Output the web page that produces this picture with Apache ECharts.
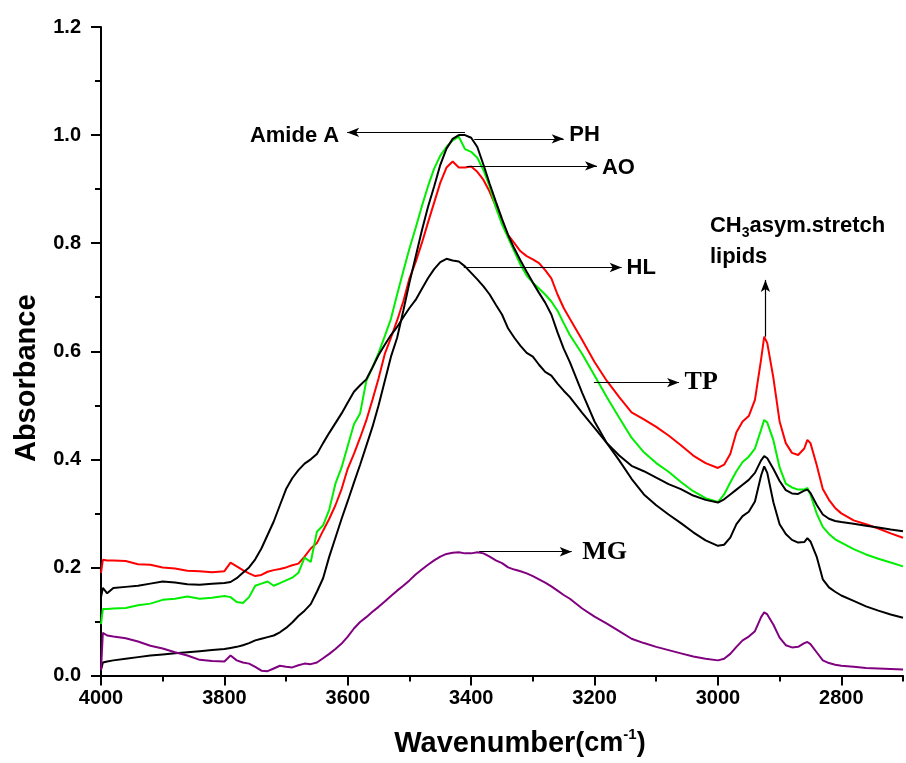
<!DOCTYPE html>
<html>
<head>
<meta charset="utf-8">
<script src="https://cdn.jsdelivr.net/npm/echarts@6/dist/echarts.min.js"></script>
<style>
html,body{margin:0;padding:0;background:#fff;}
#chart{width:906px;height:763px;}
</style>
</head>
<body>
<div id="chart"></div>
<script>
// ---- data ----
const wavenumbers = [4000,3997,3990,3980,3960,3940,3920,3900,3880,3860,3840,3820,3800,
 3790,3780,3770,3760,3750,3740,3730,3720,3710,3700,3690,3680,3670,3660,3650,3640,3630,3620,3610,3600,
 3590,3580,3570,3560,3550,3540,3530,3520,3510,3500,3490,3480,3470,3460,3450,3440,3430,3420,3410,3400,
 3390,3380,3370,3360,3350,3340,3330,3320,3310,3300,3290,3280,3270,3260,3250,3240,
 3220,3200,3180,3160,3140,3120,3100,3080,3060,3040,3020,3000,
 2990,2980,2970,2960,2950,2940,2930,2925,2920,2910,2900,2890,2880,2870,2860,2855,2850,2840,2830,2820,2810,2800,
 2780,2760,2740,2720,2700];

const aoValues = [0.19,0.214,0.213,0.213,0.212,0.206,0.205,0.200,0.198,0.194,0.193,0.191,0.193,
 0.209,0.202,0.195,0.189,0.184,0.186,0.192,0.195,0.197,0.200,0.204,0.207,0.220,0.235,0.245,0.268,0.290,0.315,0.345,0.383,
 0.410,0.440,0.472,0.510,0.550,0.595,0.625,0.657,0.692,0.735,0.765,0.800,0.838,0.875,0.912,0.940,0.951,0.940,0.940,0.942,
 0.932,0.917,0.895,0.868,0.840,0.815,0.800,0.785,0.776,0.770,0.763,0.750,0.735,0.705,0.680,0.660,
 0.621,0.580,0.545,0.515,0.487,0.474,0.460,0.444,0.426,0.407,0.393,0.384,
 0.390,0.410,0.450,0.470,0.480,0.510,0.585,0.627,0.615,0.550,0.470,0.430,0.412,0.408,0.420,0.436,0.430,0.390,0.345,0.325,0.310,0.300,
 0.287,0.280,0.272,0.263,0.255];

const tpValues = [0.095,0.123,0.123,0.124,0.125,0.130,0.133,0.140,0.142,0.146,0.142,0.144,0.147,
 0.145,0.136,0.134,0.145,0.166,0.170,0.174,0.166,0.171,0.176,0.181,0.190,0.218,0.210,0.266,0.278,0.307,0.355,0.385,0.425,
 0.465,0.485,0.545,0.570,0.597,0.628,0.660,0.705,0.748,0.790,0.828,0.868,0.905,0.938,0.962,0.978,0.990,0.997,0.974,0.969,
 0.958,0.935,0.905,0.866,0.835,0.810,0.785,0.760,0.740,0.727,0.716,0.705,0.692,0.675,0.652,0.630,
 0.595,0.555,0.515,0.477,0.440,0.413,0.393,0.377,0.358,0.341,0.328,0.321,
 0.335,0.357,0.378,0.395,0.405,0.420,0.455,0.473,0.468,0.435,0.385,0.355,0.348,0.344,0.344,0.347,0.335,0.300,0.275,0.262,0.252,0.246,
 0.234,0.224,0.216,0.209,0.202];

const hlValues = [0.145,0.162,0.152,0.162,0.164,0.166,0.170,0.174,0.172,0.169,0.168,0.170,0.171,
 0.173,0.180,0.190,0.200,0.215,0.235,0.260,0.285,0.315,0.345,0.365,0.380,0.392,0.400,0.410,0.430,0.449,0.467,0.485,0.505,
 0.525,0.537,0.548,0.570,0.593,0.612,0.630,0.645,0.663,0.680,0.695,0.715,0.735,0.752,0.765,0.771,0.768,0.766,0.757,0.745,
 0.733,0.720,0.705,0.686,0.668,0.642,0.625,0.610,0.597,0.590,0.575,0.562,0.555,0.540,0.527,0.515,
 0.486,0.458,0.430,0.407,0.388,0.378,0.366,0.354,0.345,0.333,0.325,0.320,
 0.326,0.335,0.344,0.353,0.362,0.375,0.398,0.406,0.402,0.382,0.360,0.343,0.337,0.336,0.342,0.344,0.338,0.316,0.298,0.290,0.286,0.284,
 0.281,0.277,0.274,0.270,0.267];

const phValues = [0.010,0.024,0.026,0.028,0.031,0.034,0.037,0.039,0.041,0.043,0.045,0.047,0.049,
 0.051,0.053,0.056,0.060,0.065,0.068,0.071,0.074,0.080,0.088,0.098,0.110,0.120,0.132,0.155,0.180,0.220,0.255,0.290,0.323,
 0.357,0.390,0.425,0.460,0.500,0.545,0.590,0.625,0.675,0.727,0.775,0.823,0.867,0.905,0.945,0.975,0.993,1.000,1.000,0.995,
 0.978,0.945,0.910,0.877,0.845,0.815,0.790,0.768,0.747,0.727,0.708,0.690,0.668,0.635,0.605,0.580,
 0.523,0.470,0.430,0.398,0.364,0.335,0.315,0.298,0.282,0.265,0.250,0.240,
 0.242,0.255,0.280,0.295,0.303,0.322,0.370,0.387,0.375,0.320,0.280,0.262,0.251,0.246,0.247,0.254,0.248,0.220,0.178,0.163,0.155,0.148,
 0.138,0.128,0.120,0.113,0.107];

const mgValues = [0.010,0.079,0.074,0.072,0.069,0.063,0.055,0.050,0.043,0.037,0.029,0.027,0.026,
 0.037,0.028,0.024,0.022,0.016,0.009,0.008,0.013,0.018,0.016,0.015,0.019,0.022,0.021,0.024,0.032,0.040,0.049,0.059,0.072,
 0.087,0.099,0.108,0.118,0.127,0.137,0.147,0.157,0.166,0.176,0.187,0.196,0.205,0.213,0.220,0.225,0.227,0.228,0.226,0.226,
 0.228,0.226,0.220,0.213,0.208,0.200,0.196,0.193,0.189,0.184,0.178,0.172,0.165,0.157,0.149,0.142,
 0.124,0.109,0.096,0.082,0.068,0.060,0.053,0.047,0.041,0.035,0.031,0.028,
 0.031,0.040,0.053,0.065,0.072,0.082,0.108,0.117,0.113,0.094,0.070,0.056,0.052,0.053,0.060,0.062,0.058,0.043,0.028,0.023,0.020,0.018,
 0.016,0.014,0.013,0.012,0.011];

const xMajorTicks = [2800,3000,3200,3400,3600,3800,4000];

// annotations (data coordinates)
const arrows = [
  [[3410,1.005],[3601,1.005]],
  [[3395,0.993],[3250,0.993]],
  [[3407,0.943],[3196,0.943]],
  [[3412,0.755],[3156,0.755]],
  [[3201,0.542],[3063,0.542]],
  [[3387,0.229],[3237,0.229]],
  [[2923,0.627],[2923,0.732]]
];
const labels = [
  {text:'Amide A', at:[3614,0.9985], align:'right', serif:false},
  {text:'PH', at:[3241,1.001], align:'left', serif:false},
  {text:'AO', at:[3188,0.939], align:'left', serif:false},
  {text:'HL', at:[3148,0.754], align:'left', serif:false},
  {text:'TP', at:[3054,0.542], align:'left', serif:true},
  {text:'MG', at:[3220,0.2274], align:'left', serif:true},
  {text:'{a|CH}{s|3}{a|asym.stretch}', at:[3013,0.832], align:'left', serif:false},
  {text:'lipids', at:[3013,0.775], align:'left', serif:false}
];

const pair = vals => wavenumbers.map((w,i)=>[w, vals[i]]);
const sans = 'Liberation Sans, Arial, sans-serif';
const serif = 'Liberation Serif, Times New Roman, serif';

const chart = echarts.init(document.getElementById('chart'), null, {renderer:'canvas'});

function lineSeries(name, vals, color){
  return {name, type:'line', data:pair(vals), showSymbol:false, symbol:'none',
    lineStyle:{color, width:2}, itemStyle:{color}, animation:false, z:3};
}

const series = [
  lineSeries('AO', aoValues, '#ff0000'),
  lineSeries('TP', tpValues, '#00ee00'),
  lineSeries('HL', hlValues, '#000000'),
  lineSeries('PH', phValues, '#000000'),
  lineSeries('MG', mgValues, '#800080')
];
series.push({
  type:'line', data:[], silent:true, animation:false,
  markLine:{
    silent:true, animation:false, symbol:['none','arrow'], symbolSize:[7,12],
    lineStyle:{color:'#000', width:1.2, type:'solid'},
    label:{show:false},
    data: arrows.map(a=>[{coord:a[0]},{coord:a[1]}])
  }
});

chart.setOption({
  animation:false,
  grid:{left:101, right:2, top:27, bottom:87, containLabel:false},
  xAxis:[{
    type:'value', min:2700, max:4000, interval:100, inverse:true,
    axisLine:{show:true, onZero:false, lineStyle:{color:'#000', width:2}},
    axisTick:{show:true, length:6, lineStyle:{color:'#000', width:2}},
    axisLabel:{show:true, margin:13, color:'#000',
      fontFamily:sans, fontWeight:'bold', fontSize:20,
      formatter:v => (v % 200 === 0 ? String(v) : '')},
    splitLine:{show:false},
    name:'{a|Wavenumber}{b|(cm}{c|-1}{b|)}', nameLocation:'middle', nameGap:52,
    nameTextStyle:{padding:[0,0,0,36], rich:{
      a:{fontFamily:sans, fontWeight:'bold', fontSize:29, color:'#000', lineHeight:32},
      b:{fontFamily:sans, fontWeight:'bold', fontSize:27, color:'#000', lineHeight:32},
      c:{fontFamily:sans, fontWeight:'bold', fontSize:15, color:'#000', lineHeight:32, verticalAlign:'top', padding:[0,0,14,0]}
    }}
  },{
    type:'value', min:2700, max:4000, inverse:true, position:'bottom',
    axisLine:{show:false},
    axisTick:{show:true, length:10, lineStyle:{color:'#000', width:2}, customValues:xMajorTicks},
    axisLabel:{show:false, customValues:xMajorTicks}, splitLine:{show:false}
  }],
  yAxis:{
    type:'value', min:0, max:1.2, interval:0.2,
    axisLine:{show:true, lineStyle:{color:'#000', width:2}},
    axisTick:{show:true, length:10, lineStyle:{color:'#000', width:2}},
    minorTick:{show:true, splitNumber:2, length:6, lineStyle:{color:'#000', width:2}},
    axisLabel:{margin:20, color:'#000', fontFamily:sans, fontWeight:'bold', fontSize:20,
      formatter:v=>v.toFixed(1)},
    splitLine:{show:false}, minorSplitLine:{show:false},
    name:'Absorbance', nameLocation:'middle', nameGap:60,
    nameTextStyle:{fontFamily:sans, fontWeight:'bold', fontSize:29, color:'#000', padding:[0,54,0,0]}
  },
  series
});

// text annotations placed through the chart's own coordinate conversion
const graphics = labels.map(l=>{
  const p = chart.convertToPixel({xAxisIndex:0, yAxisIndex:0}, l.at);
  return {
    type:'text', x:p[0], y:p[1], z:10, silent:true,
    style:{
      text:l.text, fill:'#000', textAlign:l.align, align:l.align,
      verticalAlign:'middle', textVerticalAlign:'middle',
      font: l.serif ? 'bold 26px ' + serif : 'bold 22px ' + sans,
      rich:{
        a:{font:'bold 22px ' + sans, fill:'#000'},
        s:{font:'bold 14px ' + sans, fill:'#000', padding:[14,0,0,0]}
      }
    }
  };
});
chart.setOption({graphic:graphics});
</script>
</body>
</html>
